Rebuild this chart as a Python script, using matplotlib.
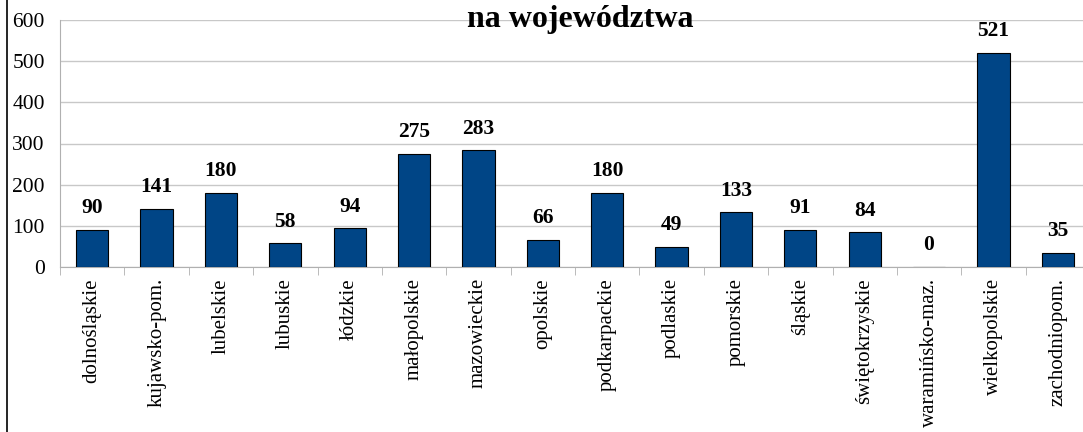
import matplotlib
matplotlib.use("Agg")
import matplotlib.pyplot as plt
import numpy as np

plt.rcParams['font.family'] = ['Liberation Serif', 'DejaVu Serif']

wojewodztwa = ['dolnośląskie', 'kujawsko-pom.', 'lubelskie', 'lubuskie', 'łódzkie',
               'małopolskie', 'mazowieckie', 'opolskie', 'podkarpackie', 'podlaskie',
               'pomorskie', 'śląskie', 'świętokrzyskie', 'waramińsko-maz.',
               'wielkopolskie', 'zachodniopom.']
liczba = [90, 141, 180, 58, 94, 275, 283, 66, 180, 49, 133, 91, 84, 0, 521, 35]
y_ticks = [0, 100, 200, 300, 400, 500, 600]

fig = plt.figure(figsize=(10.83, 4.32), dpi=100)
ax = fig.add_axes([60 / 1083, 1 - 267 / 432, 1030 / 1083, 247 / 432])

x = np.arange(len(wojewodztwa))
ax.bar(x, liczba, width=0.5, color='#004586', edgecolor='black', linewidth=0.8, zorder=3)

for xi, v in zip(x, liczba):
    ax.text(xi, v + 28, str(v), ha='center', va='bottom', fontsize=15.5, fontweight='bold')

ax.set_xlim(-0.5, len(wojewodztwa) - 0.5)
ax.set_ylim(0, 600)
ax.set_yticks(y_ticks)
ax.tick_params(axis='y', length=0, labelsize=15.5, pad=11)
ax.set_xticks(x)
ax.set_xticklabels(wojewodztwa, rotation=90, fontsize=15)
ax.tick_params(axis='x', length=0, pad=8)
ax.set_xticks(np.arange(-0.5, len(wojewodztwa), 1), minor=True)
ax.tick_params(axis='x', which='minor', length=6, color='#b0b0b0')
ax.grid(axis='y', color='#c8c8c8', linewidth=1, zorder=0)

for s in ['top', 'right']:
    ax.spines[s].set_visible(False)
ax.spines['left'].set_color('#b0b0b0')
ax.spines['bottom'].set_color('#b0b0b0')

fig.text(580 / 1083, 1 - 20 / 432, 'na województwa', ha='center', va='center',
         fontsize=23, fontweight='bold')

fig.add_artist(plt.Line2D([7 / 1083, 7 / 1083], [0, 1], color='black', linewidth=1.2))

fig.savefig('out.png', dpi=100)
